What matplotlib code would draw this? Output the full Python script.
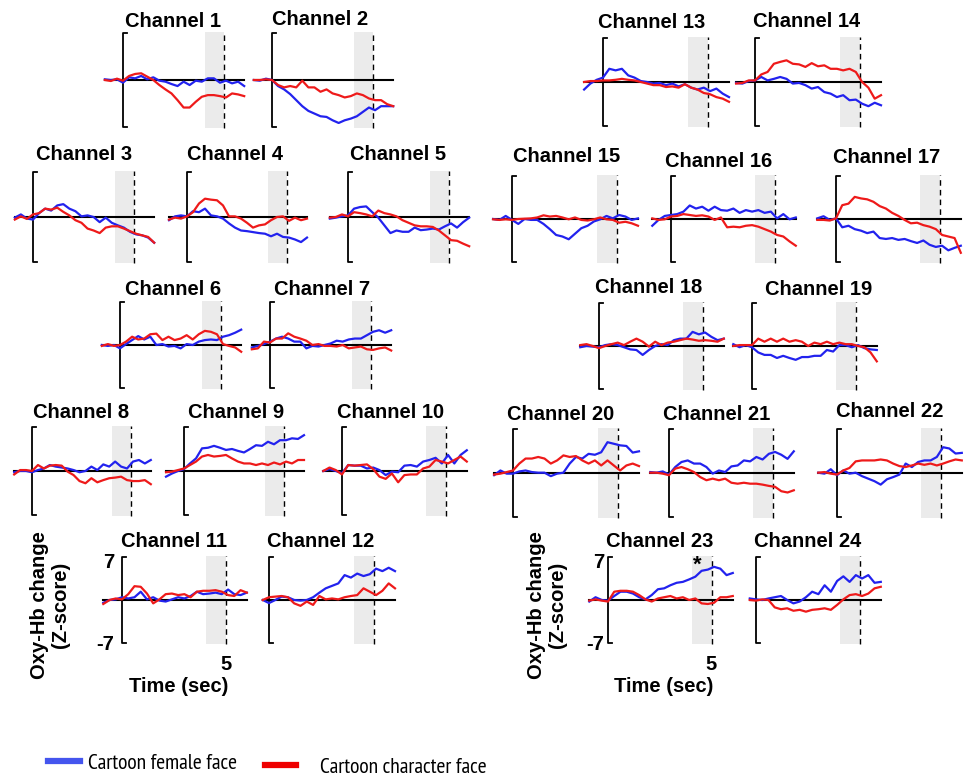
import numpy as np
import matplotlib
matplotlib.use("Agg")
import matplotlib.pyplot as plt
from matplotlib.lines import Line2D

W, H = 968, 784
nan = np.nan

# time axis shared by every channel (seconds)
time_sec = [-0.9, -0.6, -0.3, 0.0, 0.3, 0.6, 0.9, 1.2, 1.5, 1.8, 2.1, 2.4,
            2.7, 3.0, 3.3, 3.6, 3.9, 4.2, 4.5, 4.8, 5.1, 5.4, 5.7, 6.0]

# Oxy-Hb change (z-score), blue = cartoon female face, red = cartoon character face
blue_ch1 = [0.1, 0, 0.1, -0.4, 0.4, 0.25, 0.6, 0.1, 0.4, -0.1, -0.25, -0.6, -0.9, -0.25, -0.75, -0.1, -0.25, 0.25, 0.25, -0.4, -0.1, -0.5, -0.25, -0.9]
red_ch1 = [0, -0.15, 0.2, -0.1, 0.6, 0.9, 1.0, 0.5, 0, -0.75, -1.4, -2.0, -3.0, -4.1, -4.1, -3.25, -2.5, -2.25, -2.25, -2.4, -2.6, -2.0, -2.15, -2.4]
blue_ch2 = [0, -0.1, 0.2, 0, -0.9, -1.4, -2.1, -3.0, -3.9, -4.6, -5.0, -5.4, -5.5, -6.0, -6.4, -6.0, -5.75, -5.4, -4.75, -4.1, -4.5, -3.9, -3.9, -3.9]
red_ch2 = [0, 0, 0.1, 0, -0.75, -1.1, -0.9, -1.1, -0.1, -1.1, -1.1, -1.75, -1.4, -2.0, -2.25, -2.6, -2.4, -2.0, -2.25, -2.75, -3.0, -3.0, -3.6, -3.9]
blue_ch3 = [-0.1, 0.4, -0.25, -0.4, 0.6, 1.3, 1.0, 1.8, 2.0, 1.3, 0.9, 0.1, 0.25, 0, -0.8, -0.1, -0.9, -1.3, -1.65, -2.3, -2.7, -2.85, -3.2, -4.0]
red_ch3 = [-0.4, 0.1, -0.3, 0.4, 0.6, 1.3, 1.15, 1.45, 0.8, 0.25, -0.5, -0.9, -1.8, -2.1, -2.5, -1.65, -1.45, -1.45, -1.8, -2.2, -2.6, -2.85, -3.1, -4.0]
blue_ch4 = [-0.5, 0.1, 0.25, 0.1, 0.9, 0.75, 1.3, 0.25, 0.1, -0.25, -1.0, -1.65, -2.1, -2.2, -2.35, -2.5, -2.6, -3.0, -2.6, -3.1, -3.2, -3.5, -3.9, -3.2]
red_ch4 = [-0.4, -0.1, -0.25, 0.1, 0.75, 2.1, 2.85, 2.7, 2.6, 1.8, 0.1, 0.1, -0.25, -0.9, -1.65, -1.3, -1.15, -0.5, 0, 0.1, -0.6, -0.1, -0.5, -0.25]
blue_ch5 = [-0.25, -0.1, 0.1, 0.25, 1.3, 1.55, 1.65, 0.75, -0.1, -1.3, -2.5, -2.1, -2.3, -2.3, -1.65, -2.05, -1.95, -1.8, -1.95, -1.45, -1.0, -1.65, -0.8, -0.1]
red_ch5 = [-0.1, 0, 0.4, 0.1, 0.75, 0.6, 0.4, 0.1, 1.0, 0.6, 0.4, 0.1, -0.5, -0.9, -1.3, -1.45, -1.45, -1.55, -2.1, -2.85, -3.6, -3.7, -4.15, -4.55]
blue_ch6 = [0, -0.15, 0, -0.55, 0.15, 0.8, 1.45, 0.9, 1.35, 0, 0.15, -0.25, -0.15, -0.55, 0.15, 0, 0.55, 0.8, 0.9, 0.8, 1.35, 1.6, 2.0, 2.5]
red_ch6 = [-0.15, 0.15, -0.15, 0, 0.55, 1.35, 0.9, 1.05, 1.75, 1.85, 0.8, 1.35, 0.8, 1.05, 1.6, 0.9, 1.75, 2.3, 2.15, 1.75, 0.15, -0.15, -0.4, -1.1]
blue_ch7 = [-0.4, -0.15, 0.15, 0.55, 1.05, 1.35, 1.05, 0.55, 0.55, -0.55, -0.15, -0.25, 0, 0.25, 0.7, 0.55, 0.9, 1.05, 1.05, 1.6, 2.15, 2.4, 2.0, 2.4]
red_ch7 = [-0.7, -0.55, 0.55, 0.4, 1.05, 1.05, 1.9, 1.35, 1.05, 0.7, 0, 0.15, -0.15, -0.15, -0.25, 0, -0.55, -0.4, -0.25, -0.7, -0.8, -0.55, -0.4, -0.9]
blue_ch8 = [-0.2, 0, 0, -0.2, 0.15, 0.4, 0.95, 0.7, 0.55, 0.4, 0.15, -0.2, 0, 0.7, 0.15, 1.05, 0.7, 1.5, 0.7, 0.4, 1.5, 1.75, 1.2, 1.75]
red_ch8 = [-0.55, 0.15, 0.15, 0, 0.95, 0.4, 0.85, 0.95, 0.85, -0.1, -0.65, -1.6, -1.95, -1.15, -1.8, -1.45, -1.15, -1.05, -0.9, -1.45, -1.6, -1.6, -1.45, -2.1]
blue_ch9 = [-0.9, -0.4, 0, 0.3, 1.2, 2.0, 3.6, 3.7, 4.0, 3.7, 3.35, 3.5, 3.2, 2.95, 3.5, 4.1, 4.0, 4.65, 4.25, 4.9, 4.9, 5.2, 5.1, 5.7]
red_ch9 = [-0.2, -0.1, 0.15, 0.4, 0.95, 1.5, 2.3, 2.55, 2.3, 2.4, 2.55, 2.0, 1.5, 1.2, 1.2, 0.95, 1.2, 0.95, 1.35, 1.05, 1.5, 1.2, 1.75, 1.75]
blue_ch10 = [0, 0.3, 0, -0.35, 0.95, 0.85, 0.85, 0.4, 0.55, 0.15, -0.65, -0.1, -0.2, 0.85, 0.95, 0.7, 1.5, 1.75, 2.1, 1.2, 2.55, 1.2, 2.55, 3.3]
red_ch10 = [0, 0.55, 0.15, -0.55, 0.95, 0.85, 0.95, 1.05, 0.3, -0.9, -1.25, -0.4, -1.8, -0.65, -0.55, -0.55, 0.4, 0.7, 1.75, 1.5, 1.2, 1.75, 2.3, 1.5]
blue_ch11 = [-0.45, 0, 0.1, 0.45, 0.25, 0.45, 1.35, 0.1, 0.45, -0.1, -0.25, 0.1, 0.45, 0.25, 0.65, 1.35, 0.95, 1.05, 1.2, 0.95, 1.7, 0.95, 0.8, 1.2]
red_ch11 = [-0.65, 0, 0.25, 0.1, 0.95, 2.25, 2.15, 1.05, -0.55, 0.1, 0.95, 1.05, 0.8, 0.95, 0.45, 1.35, 1.5, 1.5, 1.6, 1.35, 0.8, 0.65, 1.6, 1.2]
blue_ch12 = [nan, nan, 0, -0.5, 0, 0.55, 0.45, 0, -0.1, 0, 0.45, 1.2, 1.9, 2.3, 2.7, 4.05, 3.65, 4.3, 3.9, 4.2, 5.1, 4.7, 5.25, 4.7]
red_ch12 = [nan, nan, 0, 0.45, 0.55, 0.65, 0.45, -0.55, -0.95, -0.25, -0.8, 0.65, 0.1, 0.25, 0.1, 0.45, 0.65, 0.8, 1.9, 1.35, 0.8, 1.5, 2.7, 1.9]
blue_ch13 = [-1.2, -0.25, 0.35, 0.7, 2.1, 1.85, 2.1, 1.05, 0.7, 0.15, 0, -0.25, -0.15, -0.5, -0.25, -0.7, -0.35, -0.9, -1.2, -0.9, -1.45, -1.05, -1.85, -2.4]
red_ch13 = [0, 0.15, 0.15, 0.25, 0.25, 0.35, 0.5, 0.35, 0.25, 0, -0.25, -0.5, -0.5, -0.8, -0.7, -0.9, -0.35, -0.9, -1.2, -1.75, -1.95, -2.4, -2.65, -3.15]
blue_ch14 = [-0.15, -0.25, 0.15, 0.25, 0.8, 0.25, 0.5, 0.8, 0.5, -0.25, -0.15, -0.5, -1.05, -0.8, -1.6, -1.85, -2.4, -2.1, -2.9, -2.8, -3.45, -3.85, -3.3, -3.7]
red_ch14 = [-0.25, -0.15, 0.25, 0.25, 1.2, 1.6, 2.9, 3.2, 3.45, 2.9, 2.8, 2.4, 3.0, 2.5, 2.65, 2.1, 2.1, 1.85, 2.1, 1.6, 0, -0.9, -2.65, -2.1]
blue_ch15 = [0, -0.15, 0.5, -0.15, -0.8, 0, -0.15, -0.15, -0.8, -1.65, -2.6, -2.85, -3.3, -2.4, -1.5, -1.1, -0.4, -0.05, 0.5, 0.1, 0.65, 0.4, -0.15, 0.1]
red_ch15 = [-0.05, -0.15, -0.05, -0.15, 0, 0.05, 0.1, 0.25, 0.6, 0.4, 0.5, 0.25, -0.05, 0.25, -0.15, -0.25, -0.05, 0.25, -0.05, -0.15, -0.6, -0.45, -0.7, -1.1]
blue_ch16 = [-1.1, -0.15, 0.5, 0.65, 0.8, 1.2, 2.2, 1.7, 2.0, 1.35, 2.0, 1.45, 1.35, 1.7, 1.0, 1.45, 1.2, 1.45, 1.0, 1.2, 0.1, 0.8, -0.05, 0.25]
red_ch16 = [0.1, -0.15, -0.05, 0.4, 0.5, 0.8, 0.65, 0.5, 0.6, 0.4, -0.15, 0.25, -1.35, -1.25, -1.35, -1.1, -1.0, -1.25, -1.65, -2.05, -2.6, -2.85, -3.65, -4.35]
blue_ch17 = [0.1, 0.45, -0.15, 0.1, -1.35, -1.1, -1.65, -1.9, -2.3, -2.05, -3.1, -3.25, -3.1, -3.4, -3.25, -3.6, -3.9, -3.5, -4.2, -4.55, -4.35, -5.1, -4.7, -4.35]
red_ch17 = [-0.15, -0.15, -0.25, 0.1, 2.25, 2.5, 3.6, 3.35, 3.2, 2.8, 2.1, 1.7, 1.0, 0.5, -0.15, -0.7, -0.6, -1.0, -1.25, -1.65, -2.6, -2.85, -3.1, -5.5]
blue_ch18 = [-0.2, 0, -0.1, -0.2, 0.15, 0.3, 0.15, -0.2, -0.55, -0.65, -1.45, -0.65, 0, 0.3, 0.15, 0.95, 1.2, 1.2, 2.3, 1.9, 2.2, 1.5, 0.95, 1.2]
red_ch18 = [0.15, 0.3, 0, -0.35, 0, 0.3, 0.55, 0.15, 0.7, 1.2, 0.7, -0.1, 0.7, 0.15, 0.55, 0.7, 0.95, 1.2, 1.05, 0.85, 0.95, 0.85, 0.7, 1.2]
blue_ch19 = [0.3, -0.2, 0.15, -0.2, -1.05, -1.45, -1.45, -1.95, -1.6, -1.95, -2.25, -1.8, -1.8, -1.6, -1.6, -0.65, -0.9, 0.15, 0.15, -0.2, 0.15, -0.35, -0.55, -0.65]
red_ch19 = [0, 0.15, 0.15, 0.15, 1.2, 0.7, 1.2, 0.7, 1.2, 0.7, 0.95, 0.7, 0, 0.55, 0.3, 0.7, 0.3, 0.55, 0.3, 0.3, 0, -0.2, -1.05, -2.5]
blue_ch20 = [-0.35, 0.4, -0.1, -0.1, 0.25, 0.4, 0.15, 0.05, 0.05, -0.5, -0.1, 0.05, 1.5, 2.55, 2.3, 3.05, 2.9, 3.3, 4.9, 4.65, 4.4, 4.3, 3.25, 3.45]
red_ch20 = [-0.25, -0.1, 0.15, 0.4, 1.5, 2.3, 2.3, 2.55, 2.3, 1.5, 2.0, 2.8, 2.55, 2.7, 2.0, 1.5, 2.0, 1.2, 2.0, 1.2, 0.4, 1.2, 1.5, 1.1]
blue_ch21 = [0.15, 0.05, 0.25, -0.25, 0.95, 1.75, 2.0, 1.5, 1.5, 0.95, -0.1, 0.4, 0.15, 1.05, 1.2, 2.0, 1.85, 2.55, 2.15, 3.05, 3.35, 2.9, 2.25, 3.45]
red_ch21 = [0.05, 0.05, -0.1, -0.35, 0.7, 0.95, 0.6, 0.15, -0.65, -1.15, -0.9, -1.15, -0.9, -1.55, -1.7, -1.55, -1.7, -1.7, -1.85, -2.05, -2.2, -2.9, -3.1, -2.75]
blue_ch22 = [0.05, -0.1, 0.6, -0.35, 0.4, -0.1, 0.05, -0.5, -0.9, -1.3, -1.85, -1.0, -0.65, -0.25, 1.5, 0.95, 1.75, 2.0, 2.0, 2.55, 4.1, 3.9, 3.1, 3.2]
red_ch22 = [0.05, 0.15, -0.1, -0.25, 0.4, 0.8, 1.85, 2.0, 2.0, 2.0, 2.15, 2.0, 1.5, 1.1, 0.95, 1.2, 1.5, 1.3, 1.5, 1.2, 1.5, 1.85, 2.15, 2.0]
blue_ch23 = [-0.25, 0.45, 0, -0.1, 0.65, 1.35, 1.35, 1.05, 0.45, 0.1, 0.8, 1.75, 1.9, 2.4, 2.8, 2.95, 3.35, 3.8, 4.75, 4.95, 5.4, 5.1, 4.05, 4.4]
red_ch23 = [-0.1, 0.1, -0.1, -0.25, 1.35, 1.5, 1.5, 1.35, 0.8, 0.1, -0.25, 0.25, 0.45, 0.65, 0.25, 0.45, 0, 0.25, -0.55, -0.65, -0.45, 0.45, 0.45, 0.65]
blue_ch24 = [nan, nan, 0.25, 0.1, 0, 0.25, 0.45, 0.65, 0, -0.55, -0.25, 0.45, 1.35, 0.95, 2.4, 1.35, 3.1, 3.85, 2.95, 4.05, 3.5, 4.05, 2.8, 2.95]
red_ch24 = [nan, nan, 0, -0.1, 0.1, 0, -1.2, -1.5, -1.35, -1.75, -1.6, -1.9, -1.6, -1.5, -1.35, -1.6, -0.8, 0.1, 0.8, 0.95, 0.65, 1.05, 1.9, 2.15]

female = {1: blue_ch1, 2: blue_ch2, 3: blue_ch3, 4: blue_ch4, 5: blue_ch5, 6: blue_ch6,
          7: blue_ch7, 8: blue_ch8, 9: blue_ch9, 10: blue_ch10, 11: blue_ch11, 12: blue_ch12,
          13: blue_ch13, 14: blue_ch14, 15: blue_ch15, 16: blue_ch16, 17: blue_ch17, 18: blue_ch18,
          19: blue_ch19, 20: blue_ch20, 21: blue_ch21, 22: blue_ch22, 23: blue_ch23, 24: blue_ch24}
character = {1: red_ch1, 2: red_ch2, 3: red_ch3, 4: red_ch4, 5: red_ch5, 6: red_ch6,
             7: red_ch7, 8: red_ch8, 9: red_ch9, 10: red_ch10, 11: red_ch11, 12: red_ch12,
             13: red_ch13, 14: red_ch14, 15: red_ch15, 16: red_ch16, 17: red_ch17, 18: red_ch18,
             19: red_ch19, 20: red_ch20, 21: red_ch21, 22: red_ch22, 23: red_ch23, 24: red_ch24}

# panel placement in pixels: axis x, x of t=5, zero line y, half height (7 units), title centre x, title baseline y
layout = {
    1: (123, 224, 80, 47, 173, 27), 2: (272, 373, 80, 47, 320, 25),
    13: (603, 708, 82, 44, 652, 28), 14: (755, 860, 82, 44, 807, 27),
    3: (33, 134, 217, 45, 84, 160), 4: (187, 287, 217, 45, 235, 160), 5: (348, 449, 217, 45, 398, 160),
    15: (512, 617, 219, 43, 567, 162), 16: (671, 775, 219, 43, 719, 167), 17: (836, 940, 219, 43, 887, 163),
    6: (120, 221, 345, 43, 173, 295), 7: (270, 371, 345, 43, 322, 295),
    18: (599, 703, 346, 43, 649, 293), 19: (752, 856, 346, 43, 819, 295),
    8: (32, 131, 471, 44, 81, 418), 9: (184, 284, 471, 44, 236, 418), 10: (342, 446, 471, 44, 391, 418),
    20: (513, 618, 473, 44, 561, 420), 21: (669, 773, 473, 44, 717, 420), 22: (837, 941, 473, 44, 890, 417),
    11: (122, 226, 600, 43, 174, 547), 12: (269, 374, 600, 43, 321, 547),
    23: (608, 712, 600, 43, 660, 547), 24: (756, 860, 600, 43, 808, 547),
}

BLUE = '#2222ee'
RED = '#ee1a1a'
BOLD = dict(fontsize=14.5, fontweight='bold', color='black')

plt.rcParams['font.family'] = ['Liberation Sans', 'DejaVu Sans']
fig = plt.figure(figsize=(W / 100, H / 100), dpi=100)
t = np.array(time_sec)

for ch, (x0, xd, y0, half, tcx, tby) in layout.items():
    s = (xd - x0) / 5.0
    u = half / 7.0
    left = x0 - 1.2 * s
    top = y0 - 9 * u
    ax = fig.add_axes([left / W, 1 - (top + 18 * u) / H, 7.6 * s / W, 18 * u / H])
    ax.set_xlim(-1.2, 6.4)
    ax.set_ylim(-9, 9)
    ax.axis('off')
    b = np.array(female[ch], dtype=float)
    r = np.array(character[ch], dtype=float)
    first = t[~np.isnan(b)][0]
    ax.fill_between([4.05, 5.0], -7.2, 7.2, color='#ebebeb', lw=0)
    ax.plot([5, 5], [-7.2, 7.2], color='black', lw=1.0, ls=(0, (4, 3)))
    ax.plot([0.18, 0, 0, 0.18], [7, 7, -7, -7], color='black', lw=1.3)
    ax.plot([first, t[-1]], [0, 0], color='black', lw=1.5)
    ax.plot(t, b, color=BLUE, lw=1.6)
    ax.plot(t, r, color=RED, lw=1.6)
    fig.text(tcx / W, 1 - tby / H, 'Channel %d' % ch, ha='center', va='baseline', **BOLD)

# axis annotation for the two labelled panels
for (tick_r, five_x, time_x, lab_x) in [(114, 226, 179, 50), (604, 711, 664, 547)]:
    fig.text(tick_r / W, 1 - 563 / H, '7', ha='right', va='center', **BOLD)
    fig.text(tick_r / W, 1 - 645 / H, '-7', ha='right', va='center', **BOLD)
    fig.text(five_x / W, 1 - 665 / H, '5', ha='center', va='center', **BOLD)
    fig.text(time_x / W, 1 - 687 / H, 'Time (sec)', ha='center', va='center', **BOLD)
    fig.text(lab_x / W, 1 - 605 / H, 'Oxy-Hb change\n(Z-score)', ha='center', va='center',
             rotation=90, linespacing=1.15, **BOLD)

fig.text(697 / W, 1 - 565 / H, '*', ha='center', va='center', fontsize=16, fontweight='bold')

narrow = dict(family=['PT Sans Narrow', 'Archivo Narrow', 'Liberation Sans'], size=15.5)
h_blue = Line2D([], [], color='#4455ee', lw=4.5)
h_red = Line2D([], [], color='#ee0000', lw=4.5)
fig.legend([h_blue], ['Cartoon female face'], loc='center left', bbox_to_anchor=(48 / W, 1 - 763 / H),
           frameon=False, borderpad=0, borderaxespad=0, handlelength=1.5, handletextpad=0.37, prop=narrow)
fig.legend([h_red], ['Cartoon character face'], loc='center left', bbox_to_anchor=(265 / W, 1 - 767 / H),
           frameon=False, borderpad=0, borderaxespad=0, handlelength=1.45, handletextpad=1.1, prop=narrow)

fig.savefig('out.png', dpi=100)
